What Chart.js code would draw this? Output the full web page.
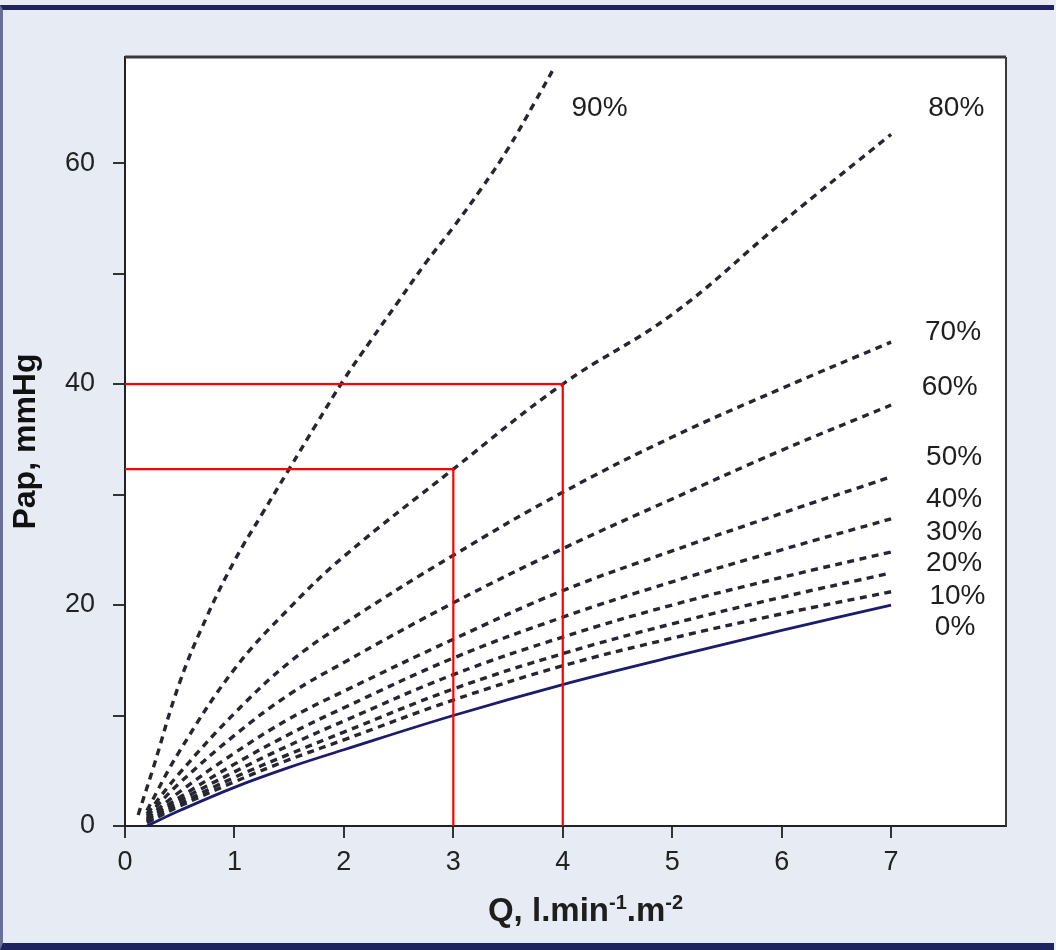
<!DOCTYPE html>
<html>
<head>
<meta charset="utf-8">
<title>Pap vs Q</title>
<script src="https://cdn.jsdelivr.net/npm/chart.js"></script>
<style>
  html, body { margin: 0; padding: 0; }
  body { width: 1056px; height: 950px; background: #e7ebf4; position: relative; overflow: hidden; }
  .frame { position: absolute; left: 0; top: 5px; width: 1054px; height: 945px; box-sizing: border-box;
           border-top: 5px solid #1f2360; border-bottom: 7px solid #1f2360; border-left: 3px solid #6a6f95; }
  #wrap { position: absolute; left: 0; top: 0; width: 1056px; height: 950px; }
</style>
</head>
<body>
<div class="frame"></div>
<div id="wrap"><canvas id="pap" width="1056" height="950"></canvas></div>
<script>
// Q (l/min/m2) and Pap (mmHg), one array per % obstruction
const flowQ  = [0.2, 0.5, 1, 1.5, 2, 3, 4, 5, 6, 7];
const pap0   = [0.0, 1.4, 3.5, 5.3, 6.9, 10.0, 12.8, 15.3, 17.7, 20.0];
const pap10  = [0.3, 1.8, 4.0, 6.0, 7.8, 11.4, 14.5, 17.0, 19.2, 21.2];
const pap20  = [0.4, 2.0, 4.4, 6.5, 8.5, 12.4, 15.6, 18.3, 20.7, 22.9];
const pap30  = [0.5, 2.3, 4.9, 7.3, 9.5, 13.7, 17.1, 20.0, 22.5, 24.8];
const pap40  = [0.6, 2.6, 5.6, 8.3, 10.7, 15.2, 18.9, 22.1, 25.0, 27.8];
const pap50  = [0.7, 3.1, 6.6, 9.7, 12.2, 16.9, 21.3, 24.9, 28.3, 31.6];
const pap60  = [0.9, 3.9, 8.2, 11.9, 14.8, 20.2, 25.1, 29.6, 34.0, 38.1];
const pap70  = [1.1, 4.8, 10.2, 14.8, 18.3, 24.5, 30.2, 35.2, 39.6, 43.8];
const pap80  = [1.4, 6.8, 14.2, 19.7, 24.4, 32.3, 40.0, 46.3, 54.6, 62.6];
const flowQ90 = [0.12, 0.25, 0.5, 0.75, 1, 1.25, 1.5, 1.75, 2, 2.25, 2.5, 2.75, 3, 3.25, 3.5, 3.75, 3.92];
const pap90   = [1.0, 5.0, 13.0, 19.0, 24.0, 28.2, 32.3, 36.4, 40.4, 44.0, 47.5, 51.0, 54.2, 57.6, 61.3, 65.6, 68.6];

const curveNames = ['0%', '10%', '20%', '30%', '40%', '50%', '60%', '70%', '80%', '90%'];

// red reading guides
const guideQ4 = [0, 4, 4];
const guideP4 = [40, 40, 0];
const guideQ3 = [0, 3, 3];
const guideP3 = [32.3, 32.3, 0];

const xTickValues = [0, 1, 2, 3, 4, 5, 6, 7];
const yTickValues = [0, 10, 20, 30, 40, 50, 60];
const yTickLabels = ['0', '', '20', '', '40', '', '60'];

const pts = (xs, ys) => xs.map((x, i) => ({ x: x, y: ys[i] }));

const dashedSeries = [pap10, pap20, pap30, pap40, pap50, pap60, pap70, pap80];

const datasets = [
  { data: pts(guideQ4, guideP4), borderColor: '#ff0000', borderWidth: 2.2, tension: 0 },
  { data: pts(guideQ3, guideP3), borderColor: '#ff0000', borderWidth: 2.2, tension: 0 },
  { data: pts(flowQ, pap0), borderColor: '#1c1c6a', borderWidth: 2.8, tension: 0.4 }
];
dashedSeries.forEach(s => {
  datasets.push({ data: pts(flowQ, s), borderColor: '#262630', borderWidth: 3.4,
                  borderDash: [7, 5.5], tension: 0.4 });
});
datasets.push({ data: pts(flowQ90, pap90), borderColor: '#262630', borderWidth: 3.4,
                borderDash: [7, 5.5], tension: 0.4 });

// where each % label sits, in data units (left edge, middle)
const labelSpots = [
  [7.40, 18.0], [7.35, 20.8], [7.32, 23.8], [7.32, 26.6], [7.32, 29.6],
  [7.32, 33.4], [7.28, 39.7], [7.31, 44.7], [7.34, 65.0], [4.08, 65.0]
];

const plotDecor = {
  id: 'plotDecor',
  beforeDraw(chart) {
    const { ctx, chartArea: a } = chart;
    ctx.save();
    ctx.fillStyle = '#ffffff';
    ctx.fillRect(a.left, a.top, a.right - a.left, a.bottom - a.top);
    ctx.restore();
  },
  afterDraw(chart) {
    const { ctx, chartArea: a, scales } = chart;
    ctx.save();
    // top and right edges of the box
    ctx.strokeStyle = '#3a3a3a';
    ctx.lineWidth = 3;
    ctx.beginPath();
    ctx.moveTo(a.left, a.top);
    ctx.lineTo(a.right, a.top);
    ctx.stroke();
    ctx.lineWidth = 2;
    ctx.beginPath();
    ctx.moveTo(a.right, a.top);
    ctx.lineTo(a.right, a.bottom);
    ctx.stroke();

    // curve labels
    ctx.fillStyle = '#1e1e1e';
    ctx.font = '28px "Liberation Sans", Arial, sans-serif';
    ctx.textAlign = 'left';
    ctx.textBaseline = 'middle';
    curveNames.forEach((name, i) => {
      const px = scales.x.getPixelForValue(labelSpots[i][0]);
      const py = scales.y.getPixelForValue(labelSpots[i][1]);
      ctx.fillText(name, px, py);
    });

    // x title with superscripts
    const parts = [['Q, l.min', false], ['-1', true], ['.m', false], ['-2', true]];
    const big = 'bold 33px "Liberation Sans", Arial, sans-serif';
    const small = 'bold 20px "Liberation Sans", Arial, sans-serif';
    let total = 0;
    parts.forEach(p => { ctx.font = p[1] ? small : big; total += ctx.measureText(p[0]).width; });
    let x = (a.left + a.right) / 2 + 20 - total / 2;
    const base = 921;
    ctx.textBaseline = 'alphabetic';
    parts.forEach(p => {
      ctx.font = p[1] ? small : big;
      ctx.fillText(p[0], x, p[1] ? base - 12 : base);
      x += ctx.measureText(p[0]).width;
    });
    ctx.restore();
  }
};

new Chart(document.getElementById('pap'), {
  type: 'line',
  data: { datasets: datasets },
  options: {
    responsive: false,
    animation: false,
    layout: { padding: { left: 0, top: 57, right: 50, bottom: 0 } },
    elements: { point: { radius: 0 } },
    plugins: { legend: { display: false }, tooltip: { enabled: false } },
    scales: {
      x: {
        type: 'linear',
        min: 0,
        max: 8.05,
        afterBuildTicks: s => { s.ticks = xTickValues.map(v => ({ value: v })); },
        afterFit: s => { s.height = 124; },
        border: { display: true, color: '#222', width: 2 },
        grid: { drawOnChartArea: false, drawTicks: true, tickLength: 12, color: '#333', lineWidth: 2 },
        ticks: { color: '#222', padding: 8, font: { family: '"Liberation Sans", Arial', size: 27 } }
      },
      y: {
        type: 'linear',
        min: 0,
        max: 69.6,
        afterBuildTicks: s => { s.ticks = yTickValues.map(v => ({ value: v })); },
        afterFit: s => { s.width = 125; },
        border: { display: true, color: '#222', width: 2 },
        grid: { drawOnChartArea: false, drawTicks: true, tickLength: 12, color: '#333', lineWidth: 2 },
        ticks: {
          color: '#222', padding: 18,
          font: { family: '"Liberation Sans", Arial', size: 27 },
          callback: (v, i) => yTickLabels[i]
        },
        title: {
          display: true, text: 'Pap, mmHg', color: '#111',
          padding: { top: 7, bottom: 0 },
          font: { family: '"Liberation Sans", Arial', size: 32, weight: 'bold' }
        }
      }
    }
  },
  plugins: [plotDecor]
});
</script>
</body>
</html>
